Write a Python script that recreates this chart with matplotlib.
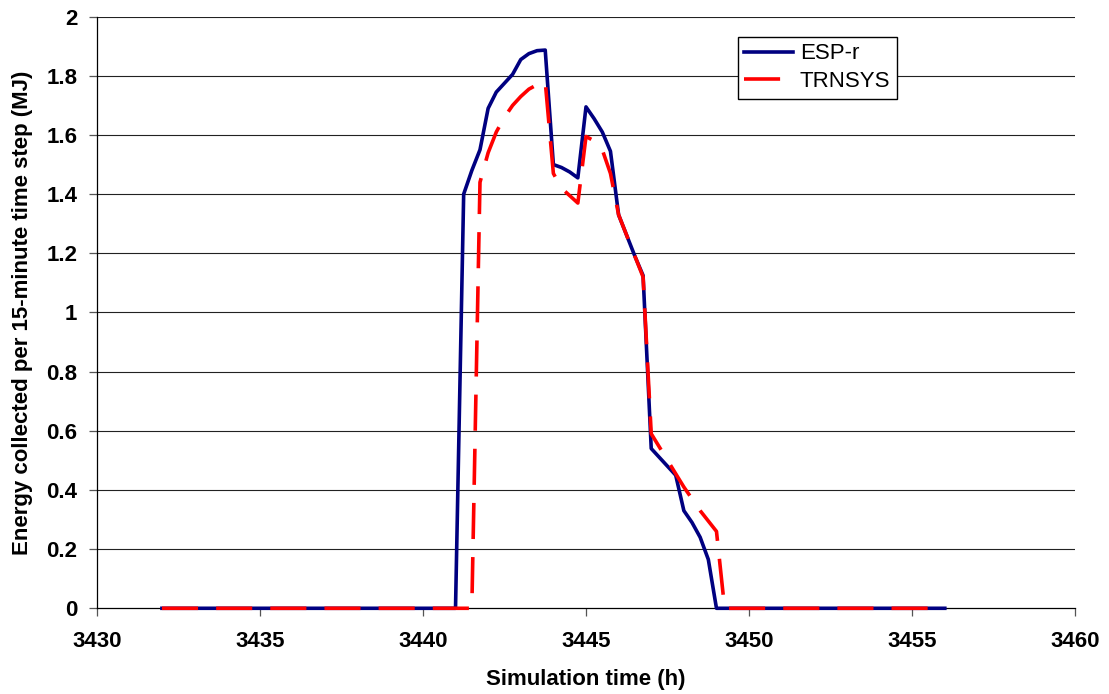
import numpy as np
import matplotlib
matplotlib.use('Agg')
import matplotlib.pyplot as plt

plt.rcParams['font.family'] = ['Liberation Sans', 'DejaVu Sans']

# Simulation time, 15-minute steps (h)
time_h = np.arange(3432.0, 3456.0 + 0.125, 0.25)

# Energy collected per 15-minute time step (MJ)
esp_r = ([0.0] * 37 +
         [1.40, 1.48, 1.55, 1.69, 1.745, 1.775, 1.805, 1.855, 1.875, 1.885, 1.887,
          1.50, 1.49, 1.475, 1.455, 1.695, 1.655, 1.61, 1.545, 1.33, 1.26, 1.19, 1.125,
          0.54, 0.51, 0.48, 0.45, 0.33, 0.29, 0.24, 0.165] +
         [0.0] * 29)

trnsys = ([0.0] * 39 +
          [1.44, 1.54, 1.61, 1.66, 1.70, 1.73, 1.755, 1.77, 1.78,
           1.47, 1.42, 1.395, 1.37, 1.595, 1.58, 1.55, 1.47, 1.33, 1.26, 1.19, 1.12,
           0.59, 0.545, 0.50, 0.455, 0.41, 0.37, 0.33, 0.295, 0.26] +
          [0.0] * 28)

x_ticks = [3430, 3435, 3440, 3445, 3450, 3455, 3460]
y_ticks = [0, 0.2, 0.4, 0.6, 0.8, 1, 1.2, 1.4, 1.6, 1.8, 2]

fig = plt.figure(figsize=(11.09, 6.94), dpi=100)
ax = fig.add_axes([0.0872, 0.1235, 0.8824, 0.8525])

# Horizontal gridlines
for yv in y_ticks[1:]:
    ax.axhline(yv, color='#222222', lw=0.8, zorder=1)

ax.plot(time_h, esp_r, color='#000080', lw=2.6, label='ESP-r', zorder=3, clip_on=False)
ax.plot(time_h, trnsys, color='#FF0000', lw=2.6, dashes=(10, 5), label='TRNSYS',
        zorder=4, clip_on=False)

ax.set_xlim(3430, 3460)
ax.set_ylim(0, 2)
ax.set_xticks(x_ticks)
ax.set_yticks(y_ticks)
ax.set_yticklabels(['{:g}'.format(v) for v in y_ticks])

for side in ['top', 'right']:
    ax.spines[side].set_visible(False)
for side in ['left', 'bottom']:
    ax.spines[side].set_color('black')
    ax.spines[side].set_linewidth(0.9)

ax.tick_params(axis='both', direction='out', length=6, width=0.9, color='#555555',
               labelsize=16)
ax.tick_params(axis='x', pad=10)
ax.tick_params(axis='y', pad=8)
for lbl in ax.get_xticklabels() + ax.get_yticklabels():
    lbl.set_fontweight('bold')

ax.set_xlabel('Simulation time (h)', fontsize=16, fontweight='bold', va='center')
ax.set_ylabel('Energy collected per 15-minute time step (MJ)', fontsize=16,
              fontweight='bold', va='center')
ax.xaxis.set_label_coords(0.5, -0.121)
ax.yaxis.set_label_coords(-0.0763, 0.5)

leg = ax.legend(loc='upper left', bbox_to_anchor=(0.655, 0.966), borderaxespad=0,
                fontsize=16, frameon=True, fancybox=False, edgecolor='black',
                framealpha=1, handlelength=2.2, borderpad=0.3, labelspacing=0.3,
                handletextpad=0.3)
leg.get_frame().set_linewidth(1.0)

fig.savefig('out.png', dpi=100)
